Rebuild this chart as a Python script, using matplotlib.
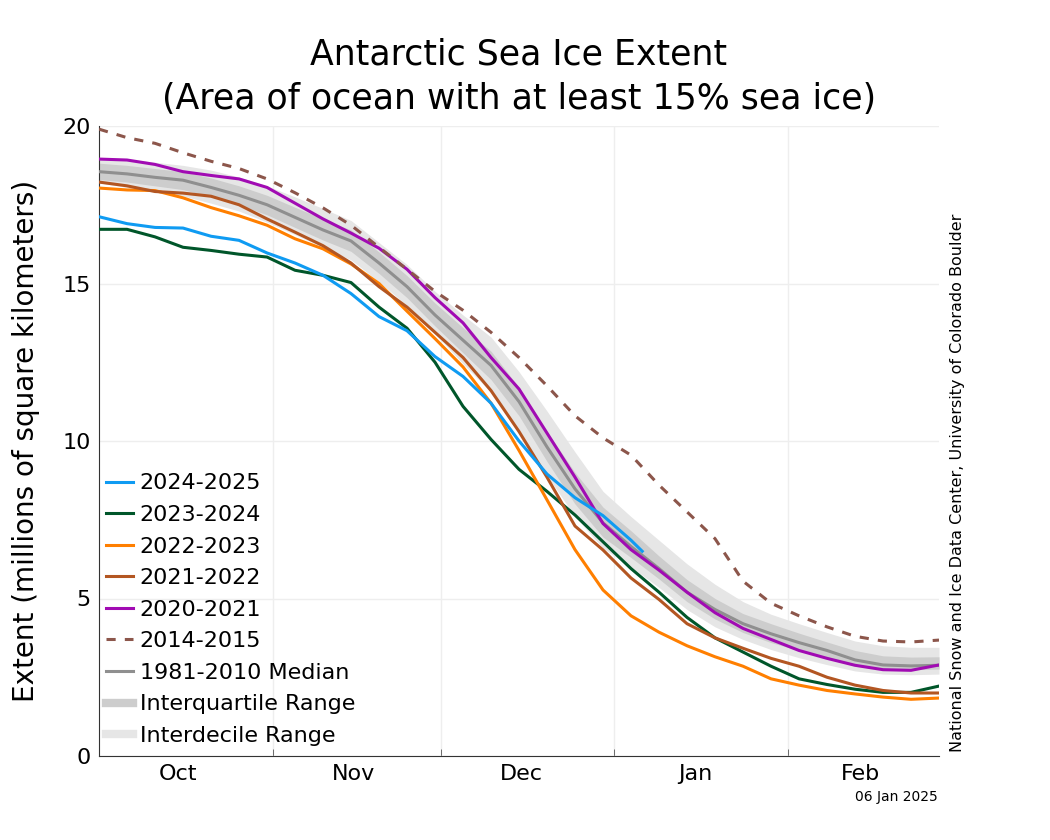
import numpy as np
import matplotlib
matplotlib.use('Agg')
import matplotlib.pyplot as plt

# days since Oct 1, 5-day steps
days = list(range(0, 151, 5))

median = [18.55, 18.48, 18.37, 18.28, 18.05, 17.8, 17.5, 17.1, 16.7, 16.35, 15.65,
          14.9, 14.0, 13.2, 12.4, 11.25, 9.81, 8.48, 7.4, 6.65, 5.95, 5.2, 4.65,
          4.2, 3.88, 3.6, 3.35, 3.05, 2.89, 2.86, 2.88]
iqr_lo = [18.3, 18.22, 18.1, 17.98, 17.75, 17.5, 17.18, 16.78, 16.38, 16.02, 15.32,
          14.55, 13.65, 12.8, 11.95, 10.8, 9.35, 8.0, 6.95, 6.3, 5.62, 4.9, 4.35,
          3.92, 3.6, 3.35, 3.1, 2.85, 2.74, 2.74, 2.76]
iqr_hi = [18.82, 18.75, 18.65, 18.55, 18.35, 18.1, 17.8, 17.42, 17.05, 16.7, 16.0,
          15.25, 14.38, 13.6, 12.85, 11.7, 10.3, 9.0, 7.9, 7.15, 6.35, 5.6, 5.0,
          4.52, 4.2, 3.9, 3.62, 3.35, 3.18, 3.14, 3.15]
idr_lo = [18.2, 18.05, 17.9, 17.78, 17.55, 17.3, 16.95, 16.55, 16.15, 15.75, 15.05,
          14.3, 13.4, 12.45, 11.55, 10.35, 8.9, 7.6, 6.6, 6.0, 5.35, 4.65, 4.1,
          3.7, 3.38, 3.12, 2.9, 2.7, 2.6, 2.58, 2.6]
idr_hi = [19.0, 18.95, 18.85, 18.75, 18.6, 18.38, 18.1, 17.75, 17.38, 17.0, 16.3,
          15.6, 14.75, 14.0, 13.3, 12.2, 10.95, 9.65, 8.4, 7.6, 6.85, 6.1, 5.45,
          4.9, 4.5, 4.2, 3.92, 3.65, 3.5, 3.45, 3.45]

s2020 = [18.95, 18.92, 18.78, 18.55, 18.43, 18.32, 18.05, 17.55, 17.05, 16.6, 16.12,
         15.45, 14.55, 13.75, 12.65, 11.65, 10.25, 8.85, 7.38, 6.55, 5.9, 5.2, 4.55,
         4.05, 3.7, 3.35, 3.1, 2.88, 2.74, 2.72, 2.89]
s2021 = [18.22, 18.1, 17.92, 17.87, 17.77, 17.5, 17.05, 16.63, 16.2, 15.65, 14.9,
         14.25, 13.45, 12.65, 11.6, 10.3, 8.85, 7.3, 6.54, 5.65, 4.97, 4.2, 3.75,
         3.42, 3.1, 2.85, 2.5, 2.25, 2.08, 2.0, 2.0]
s2022 = [18.03, 17.97, 17.95, 17.72, 17.41, 17.15, 16.85, 16.42, 16.1, 15.62, 15.0,
         14.12, 13.25, 12.35, 11.2, 9.7, 8.13, 6.55, 5.27, 4.45, 3.93, 3.5, 3.15,
         2.85, 2.45, 2.25, 2.08, 1.97, 1.87, 1.8, 1.84]
s2023 = [16.72, 16.72, 16.48, 16.15, 16.05, 15.93, 15.84, 15.42, 15.26, 15.03, 14.25,
         13.58, 12.5, 11.1, 10.05, 9.1, 8.4, 7.65, 6.8, 5.95, 5.2, 4.4, 3.75,
         3.3, 2.85, 2.45, 2.27, 2.12, 2.02, 2.02, 2.22]
s2014 = [19.9, 19.63, 19.45, 19.15, 18.88, 18.65, 18.32, 17.88, 17.4, 16.85, 16.15,
         15.45, 14.75, 14.15, 13.45, 12.65, 11.75, 10.8, 10.1, 9.55, 8.6, 7.75, 6.9,
         5.55, 4.85, 4.45, 4.1, 3.8, 3.65, 3.62, 3.68]

days_2024 = [0, 5, 10, 15, 20, 25, 30, 35, 40, 45, 50, 55, 60, 65, 70, 75, 80, 85, 90, 95, 97]
s2024 = [17.12, 16.9, 16.78, 16.76, 16.5, 16.37, 15.97, 15.65, 15.26, 14.68, 13.95,
         13.5, 12.68, 12.05, 11.2, 10.0, 8.95, 8.2, 7.63, 6.85, 6.5]

month_bounds = [31, 61, 92, 123]
month_mid = [14.1, 45.4, 75.4, 106.4, 136]
month_names = ['Oct', 'Nov', 'Dec', 'Jan', 'Feb']

fig = plt.figure(figsize=(10.5, 8.4), dpi=100)
ax = fig.add_axes([0.0943, 0.1, 0.8, 0.75])

ax.fill_between(days, idr_lo, idr_hi, color='#e6e6e6', lw=0, zorder=1)
ax.fill_between(days, iqr_lo, iqr_hi, color='#cdcdcd', lw=0, zorder=2)

ax.plot(days_2024, s2024, color='#0f9bf2', lw=2.2, label='2024-2025', zorder=5)
ax.plot(days, s2023, color='#00562a', lw=2.2, label='2023-2024', zorder=4)
ax.plot(days, s2022, color='#ff7f00', lw=2.2, label='2022-2023', zorder=4)
ax.plot(days, s2021, color='#b35622', lw=2.2, label='2021-2022', zorder=4)
ax.plot(days, s2020, color='#a10bb3', lw=2.2, label='2020-2021', zorder=4)
ax.plot(days, s2014, color='#8c564b', lw=2.2, ls=(0, (3, 3)), label='2014-2015', zorder=4)
ax.plot(days, median, color='#8f8f8f', lw=2.2, label='1981-2010 Median', zorder=3)
# legend proxies for the bands
ax.plot([], [], color='#cdcdcd', lw=6, label='Interquartile Range')
ax.plot([], [], color='#e6e6e6', lw=6, label='Interdecile Range')

ax.set_xlim(0, 150)
ax.set_ylim(0, 20)
ax.set_yticks([0, 5, 10, 15, 20])
ax.set_xticks(month_mid)
ax.set_xticklabels(month_names)
ax.set_xticks(month_bounds, minor=True)
ax.tick_params(axis='x', which='major', length=0, labelsize=16, pad=6)
ax.tick_params(axis='x', which='minor', length=5, direction='in', color='#555555')
ax.tick_params(axis='y', length=0, labelsize=16, pad=6)

ax.grid(True, axis='y', color='#eeeeee', lw=1, zorder=0)
ax.grid(True, axis='x', which='minor', color='#eeeeee', lw=1, zorder=0)
ax.set_axisbelow(True)
for side in ['top', 'right']:
    ax.spines[side].set_visible(False)
for side in ['left', 'bottom']:
    ax.spines[side].set_color('#333333')

ax.set_ylabel('Extent (millions of square kilometers)', fontsize=20, labelpad=16)
ax.set_title('Antarctic Sea Ice Extent\n(Area of ocean with at least 15% sea ice)',
             fontsize=25, pad=12, linespacing=1.4)

ax.legend(loc='lower left', frameon=False, fontsize=16, handlelength=1.2,
          handletextpad=0.3, labelspacing=0.52, borderaxespad=0.0,
          bbox_to_anchor=(-0.002, 0.002))

fig.text(0.912, 0.425, 'National Snow and Ice Data Center, University of Colorado Boulder',
         rotation=90, va='center', ha='center', fontsize=11.5)
fig.text(0.893, 0.051, '06 Jan 2025', ha='right', va='center', fontsize=10)

fig.savefig('out.png', dpi=100)
